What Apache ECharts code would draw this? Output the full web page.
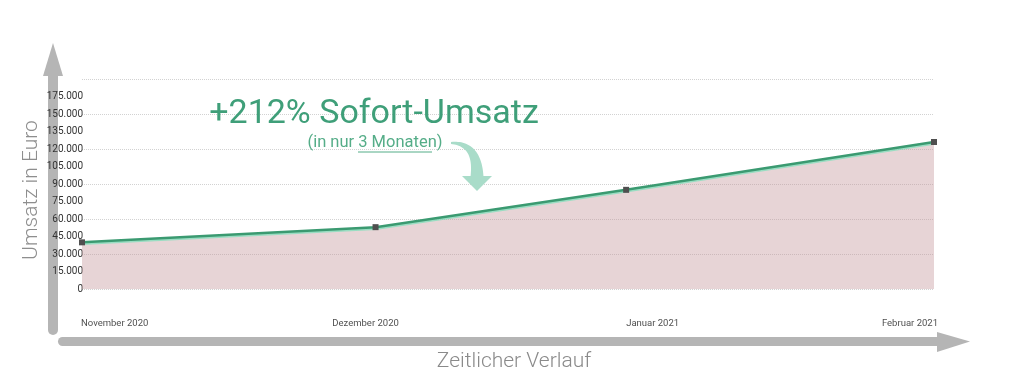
<!DOCTYPE html>
<html>
<head>
<meta charset="utf-8">
<script src="https://cdn.jsdelivr.net/npm/echarts@6/dist/echarts.min.js"></script>
<style>
  html, body { margin: 0; padding: 0; background: #ffffff; }
  #chart { width: 1020px; height: 392px; }
</style>
</head>
<body>
<div id="chart"></div>
<script>
// ---- data ----
const monthLabels = ['November 2020', 'Dezember 2020', 'Januar 2021', 'Februar 2021'];
const pointDates = ['2020-11-01', '2020-12-12', '2021-01-16', '2021-02-28'];
const revenue = [40000, 53000, 85000, 126000];
const yTickValues = [0, 15000, 30000, 45000, 60000, 75000, 90000, 105000, 120000, 135000, 150000, 165000, 180000];
const yTickLabels = ['0', '15.000', '30.000', '45.000', '60.000', '75.000', '90.000', '105.000', '120.000', '135.000', '150.000', '175.000', ''];
const headline = '+212% Sofort-Umsatz';
const subline = ['(in nur ', '3 Monaten', ')'];
const yTitle = 'Umsatz in Euro';
const xTitle = 'Zeitlicher Verlauf';

// ---- build ----
const ts = pointDates.map(d => new Date(d + 'T00:00:00').getTime());
const seriesData = ts.map((t, i) => [t, revenue[i]]);

const FONT = 'Roboto, "Noto Sans", sans-serif';
const ARROW_GREY = '#b5b5b5';
const MINT = '#a9dcc9';

// tapered curved arrow shaft (decoration)
function taperedShaft(p0, c, p2, w0, w1, n) {
  const left = [], right = [];
  for (let i = 0; i <= n; i++) {
    const t = i / n;
    const x = (1 - t) * (1 - t) * p0[0] + 2 * (1 - t) * t * c[0] + t * t * p2[0];
    const y = (1 - t) * (1 - t) * p0[1] + 2 * (1 - t) * t * c[1] + t * t * p2[1];
    const dx = 2 * (1 - t) * (c[0] - p0[0]) + 2 * t * (p2[0] - c[0]);
    const dy = 2 * (1 - t) * (c[1] - p0[1]) + 2 * t * (p2[1] - c[1]);
    const len = Math.sqrt(dx * dx + dy * dy) || 1;
    const nx = -dy / len, ny = dx / len;
    const w = (w0 + (w1 - w0) * t) / 2;
    left.push([x + nx * w, y + ny * w]);
    right.push([x - nx * w, y - ny * w]);
  }
  return left.concat(right.reverse());
}

// per-label horizontal placement of month labels (style only)
const monthLabelAlign = [
  { align: 'left', offset: [-1, 0] },
  { align: 'center', offset: [-10, 0] },
  { align: 'left', offset: [0, 0] },
  { align: 'right', offset: [4, 0] }
];
const monthLabelData = ts.map((t, i) => ({
  value: [t, 0],
  label: { align: monthLabelAlign[i].align, offset: monthLabelAlign[i].offset }
}));

const chart = echarts.init(document.getElementById('chart'));
chart.setOption({
  backgroundColor: '#ffffff',
  animation: false,
  grid: { left: 82, right: 86, top: 79, bottom: 103 },
  xAxis: {
    type: 'time',
    min: ts[0],
    max: ts[ts.length - 1],
    axisLine: { show: false },
    axisTick: { show: false },
    splitLine: { show: false },
    axisLabel: { show: false }
  },
  yAxis: [
    {
      type: 'value',
      min: 0,
      max: 180000,
      interval: 15000,
      axisLine: { show: false },
      axisTick: { show: false },
      splitLine: { show: false },
      axisLabel: {
        margin: -1,
        fontFamily: FONT,
        fontSize: 10,
        color: '#333',
        formatter: function (v) {
          const i = yTickValues.indexOf(v);
          return i >= 0 ? yTickLabels[i] : '';
        }
      }
    },
    {
      type: 'value',
      min: 0,
      max: 180000,
      interval: 30000,
      axisLine: { show: false },
      axisTick: { show: false },
      axisLabel: { show: false },
      splitLine: { show: true, lineStyle: { color: '#d2d2d2', type: 'dotted', width: 1 } }
    }
  ],
  series: [
    {
      type: 'line',
      yAxisIndex: 0,
      data: seriesData,
      symbol: 'rect',
      symbolSize: 6,
      showSymbol: true,
      itemStyle: { color: '#4f4f4f' },
      lineStyle: {
        color: '#3b9a71', width: 2.5,
        shadowColor: 'rgba(120,225,185,0.7)', shadowOffsetY: 1.5, shadowBlur: 0
      },
      areaStyle: { color: 'rgba(195,148,153,0.4)', opacity: 1 },
      z: 3
    },
    {
      type: 'scatter',
      yAxisIndex: 0,
      data: monthLabelData,
      symbolSize: 0,
      silent: true,
      clip: false,
      label: {
        show: true,
        position: 'bottom',
        distance: 29.5,
        fontFamily: FONT,
        fontSize: 9.5,
        color: '#222',
        formatter: function (p) { return monthLabels[p.dataIndex]; }
      },
      z: 4
    }
  ],
  graphic: [
    // vertical axis arrow
    { type: 'rect', shape: { x: 48, y: 74, width: 10, height: 261, r: [0, 0, 5, 5] }, style: { fill: ARROW_GREY }, silent: true },
    { type: 'polygon', shape: { points: [[43, 76], [53, 43], [63, 76]] }, style: { fill: ARROW_GREY }, silent: true },
    // horizontal axis arrow
    { type: 'rect', shape: { x: 58, y: 337, width: 881, height: 9, r: [4.5, 0, 0, 4.5] }, style: { fill: ARROW_GREY }, silent: true },
    { type: 'polygon', shape: { points: [[937, 332], [970, 341.5], [937, 352]] }, style: { fill: ARROW_GREY }, silent: true },
    // axis titles
    { type: 'text', x: 32, y: 190, rotation: Math.PI / 2,
      style: { text: yTitle, fontFamily: FONT, fontSize: 21, fontWeight: 300, fill: '#8e8e8e', align: 'center', verticalAlign: 'middle' }, silent: true },
    { type: 'text', x: 514, y: 362,
      style: { text: xTitle, fontFamily: FONT, fontSize: 21, fontWeight: 300, fill: '#8a8a8a', align: 'center', verticalAlign: 'middle' }, silent: true },
    // headline annotation
    { type: 'text', x: 374, y: 114,
      style: { text: headline, fontFamily: FONT, fontSize: 34, fill: '#3f9f79', align: 'center', verticalAlign: 'middle' }, silent: true, z: 10 },
    { type: 'text', x: 375, y: 143,
      style: {
        text: subline.join(''),
        fontFamily: FONT, fontSize: 16.5, fill: '#55ad88', align: 'center', verticalAlign: 'middle'
      }, silent: true, z: 10 },
    { type: 'line', shape: { x1: 358, y1: 152, x2: 432, y2: 152 }, style: { stroke: '#55ad88', lineWidth: 1 }, silent: true, z: 10 },
    // curved mint arrow
    { type: 'polygon', shape: { points: taperedShaft([451, 143], [478, 143], [477, 177], 2, 13, 30) }, style: { fill: MINT }, silent: true, z: 10 },
    { type: 'polygon', shape: { points: [[462, 176], [492, 176], [477, 191]] }, style: { fill: MINT }, silent: true, z: 10 }
  ]
});
</script>
</body>
</html>
